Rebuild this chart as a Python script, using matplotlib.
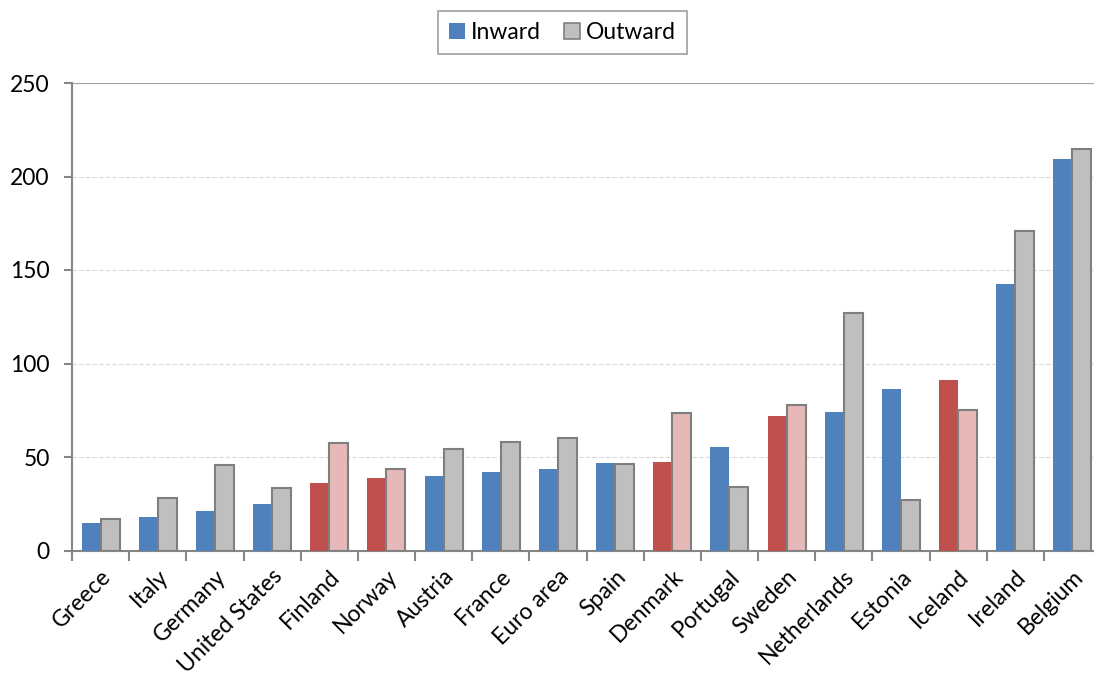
import matplotlib
matplotlib.use("Agg")
import matplotlib.pyplot as plt
import matplotlib.transforms as mtransforms
import numpy as np
from matplotlib.patches import Patch

plt.rcParams["font.family"] = ["Lato", "DejaVu Sans"]

# ---------------------------------------------------------------------------
# data
# ---------------------------------------------------------------------------
countries = ["Greece", "Italy", "Germany", "United States", "Finland", "Norway",
             "Austria", "France", "Euro area", "Spain", "Denmark", "Portugal",
             "Sweden", "Netherlands", "Estonia", "Iceland", "Ireland", "Belgium"]
inward = [14.5, 17.7, 21.0, 24.9, 36.2, 38.9, 39.8, 41.9, 43.7, 46.9,
          47.5, 55.1, 72.1, 74.2, 86.4, 91.4, 142.4, 209.2]
outward = [17.0, 28.3, 45.9, 33.3, 57.3, 43.7, 54.5, 57.8, 60.0, 46.5,
           73.7, 33.7, 77.6, 126.9, 26.8, 75.0, 171.1, 214.9]
nordic = ["Finland", "Norway", "Denmark", "Sweden", "Iceland"]

BLUE, RED = "#4F81BD", "#C0504D"
GREY, PINK = "#BFBFBF", "#E6B9B8"
EDGE = "#7F7F7F"
FS = 16.5

fig = plt.figure(figsize=(10.94, 6.77), dpi=100)
ax = fig.add_axes([72 / 1094, 126.5 / 677, 1029 / 1094, 467.5 / 677])

x = np.arange(len(countries))
w = 1 / 3
in_cols = [RED if c in nordic else BLUE for c in countries]
out_cols = [PINK if c in nordic else GREY for c in countries]
ax.bar(x - w / 2, inward, width=w, color=in_cols, edgecolor="none", zorder=3)
ax.bar(x + w / 2, outward, width=w, color=out_cols, edgecolor=EDGE,
       linewidth=1.5, zorder=3)

ax.set_xlim(-0.5, len(countries) - 0.5)
ax.set_ylim(0, 250)
ax.set_yticks([0, 50, 100, 150, 200, 250])
ax.yaxis.grid(True, color="#D9D9D9", linestyle=(0, (4, 2)), linewidth=0.8, zorder=0)
ax.axhline(250, color="#A0A0A0", linewidth=1.5, zorder=2)

# category labels at centres, tick marks at boundaries (Excel style)
ax.set_xticks(x)
ax.set_xticklabels(countries, rotation=45, ha="right", va="top",
                   rotation_mode="anchor")
shift = mtransforms.ScaledTranslation(10 / 100, 0, fig.dpi_scale_trans)
for lab in ax.get_xticklabels():
    lab.set_transform(lab.get_transform() + shift)
ax.tick_params(axis="x", which="major", length=0, pad=11, labelsize=FS)
ax.set_xticks(np.arange(-0.5, len(countries)), minor=True)
ax.tick_params(axis="x", which="minor", length=7, width=1.5, color="#868686")
ax.tick_params(axis="y", length=6, width=1.5, color="#868686", labelsize=FS, pad=10)

for side in ["top", "right"]:
    ax.spines[side].set_visible(False)
for side in ["left", "bottom"]:
    ax.spines[side].set_color("#868686")
    ax.spines[side].set_linewidth(1.5)

handles = [Patch(facecolor=BLUE, edgecolor="none", label="Inward"),
           Patch(facecolor=GREY, edgecolor=EDGE, linewidth=1.2, label="Outward")]
leg = fig.legend(handles=handles, loc="center", ncol=2,
                 bbox_to_anchor=(562.5 / 1094, 1 - 32.5 / 677),
                 frameon=True, fancybox=False, fontsize=FS,
                 handlelength=0.7, handleheight=0.7, handletextpad=0.25,
                 columnspacing=1.0, borderpad=0.5)
leg.get_frame().set_edgecolor("#868686")
leg.get_frame().set_linewidth(1.2)

fig.savefig("out.png", dpi=100)
